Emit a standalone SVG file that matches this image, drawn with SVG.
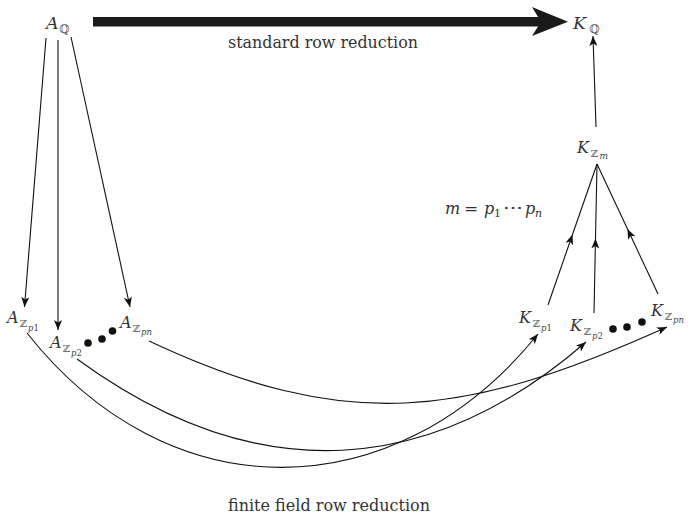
<svg xmlns="http://www.w3.org/2000/svg" width="688" height="516" viewBox="0 0 688 516">
<defs>
<marker id="ah" viewBox="0 0 10 8" refX="10" refY="4" markerWidth="10" markerHeight="8" markerUnits="userSpaceOnUse" orient="auto">
<path d="M0,0 L10,4 L0,8 L2.5,4 z" fill="#111"/>
</marker>
<style>
.m{font-family:"DejaVu Serif","Liberation Serif",serif;font-style:italic;fill:#333}
.b{font-family:"DejaVu Serif","DejaVu Sans",serif;font-style:normal;fill:#555}
.s{font-family:"DejaVu Serif","Liberation Serif",serif;font-style:italic;fill:#444}
.t{font-family:"DejaVu Serif","Liberation Serif",serif;font-size:17px;fill:#333}
.c{fill:none;stroke:#111;stroke-width:1.1}
.d{fill:#111}
</style>
</defs>
<g id="connectors">
<rect x="93" y="17" width="448" height="9.5" fill="#1a1a1a"/>
<polygon points="532,7 568,21.7 532,36 541,21.7" fill="#1a1a1a"/>
<line class="c" x1="46" y1="38" x2="24.5" y2="307" marker-end="url(#ah)"/>
<line class="c" x1="58" y1="40" x2="58" y2="330" marker-end="url(#ah)"/>
<line class="c" x1="71" y1="37" x2="130" y2="307" marker-end="url(#ah)"/>
<line class="c" x1="596" y1="127" x2="593" y2="36" marker-end="url(#ah)"/>
<path class="c" d="M548,305 L572.5,234.5 L597,164" marker-mid="url(#ah)"/>
<path class="c" d="M594,313 L595.5,238.5 L597,164" marker-mid="url(#ah)"/>
<path class="c" d="M658,294 L627.5,229 L597,164" marker-mid="url(#ah)"/>
<path class="c" d="M27,333 C168,512 394,512 538,334" marker-end="url(#ah)"/>
<path class="c" d="M77,359 C259,492 433,475 586,342" marker-end="url(#ah)"/>
<path class="c" d="M149,341 C345,433 463,419 667,327" marker-end="url(#ah)"/>
</g>
<g id="AQ">
<text class="m" x="46" y="29" font-size="17.5">A</text>
<text class="b" x="59.5" y="33" font-size="11.5">ℚ</text>
</g>
<g id="KQ">
<text class="m" x="573" y="29" font-size="17.5">K</text>
<text class="b" x="589.5" y="33" font-size="11.5">ℚ</text>
</g>
<g id="KZm">
<text class="m" x="577" y="153" font-size="16">K</text>
<text class="b" x="591" y="157" font-size="10">ℤ</text>
<text class="s" x="599.5" y="159" font-size="9">m</text>
</g>
<g id="AZp1">
<text class="m" x="7" y="323" font-size="16">A</text>
<text class="b" x="20" y="327" font-size="10">ℤ</text>
<text class="s" x="28" y="331" font-size="8.5">p<tspan font-style="normal">1</tspan></text>
</g>
<g id="AZp2">
<text class="m" x="50" y="348" font-size="16">A</text>
<text class="b" x="63" y="352" font-size="10">ℤ</text>
<text class="s" x="71" y="356" font-size="8.5">p<tspan font-style="normal">2</tspan></text>
</g>
<g id="AZpn">
<text class="m" x="120" y="328" font-size="16">A</text>
<text class="b" x="133" y="332" font-size="10">ℤ</text>
<text class="s" x="141" y="335" font-size="8.5">pn</text>
</g>
<g id="Adots">
<circle class="d" cx="88" cy="343" r="3.8"/>
<circle class="d" cx="102" cy="339" r="3.8"/>
<circle class="d" cx="112.5" cy="331" r="3.8"/>
</g>
<g id="KZp1">
<text class="m" x="519" y="323" font-size="16">K</text>
<text class="b" x="533" y="327" font-size="10">ℤ</text>
<text class="s" x="541" y="331" font-size="8.5">p<tspan font-style="normal">1</tspan></text>
</g>
<g id="KZp2">
<text class="m" x="570" y="331" font-size="16">K</text>
<text class="b" x="584" y="335" font-size="10">ℤ</text>
<text class="s" x="592" y="339" font-size="8.5">p<tspan font-style="normal">2</tspan></text>
</g>
<g id="KZpn">
<text class="m" x="651" y="316" font-size="16">K</text>
<text class="b" x="665" y="320" font-size="10">ℤ</text>
<text class="s" x="673" y="323" font-size="8.5">pn</text>
</g>
<g id="Kdots">
<circle class="d" cx="613" cy="329" r="3.8"/>
<circle class="d" cx="627" cy="327" r="3.8"/>
<circle class="d" cx="642" cy="322" r="3.8"/>
</g>
<g id="mlabel">
<text class="m" x="445" y="214" font-size="16">m</text>
<text class="t" x="464" y="214">=</text>
<text class="m" x="484" y="214" font-size="16">p</text>
<text class="t" x="494" y="217" style="font-size:11px">1</text>
<text class="t" x="503" y="214" textLength="20" lengthAdjust="spacingAndGlyphs">···</text>
<text class="m" x="525" y="214" font-size="16">p</text>
<text class="m" x="535" y="217" font-size="11">n</text>
</g>
<g id="labels">
<text class="t" x="228" y="48" textLength="190" lengthAdjust="spacingAndGlyphs">standard row reduction</text>
<text class="t" x="228" y="511" textLength="202" lengthAdjust="spacingAndGlyphs">finite field row reduction</text>
</g>
</svg>
